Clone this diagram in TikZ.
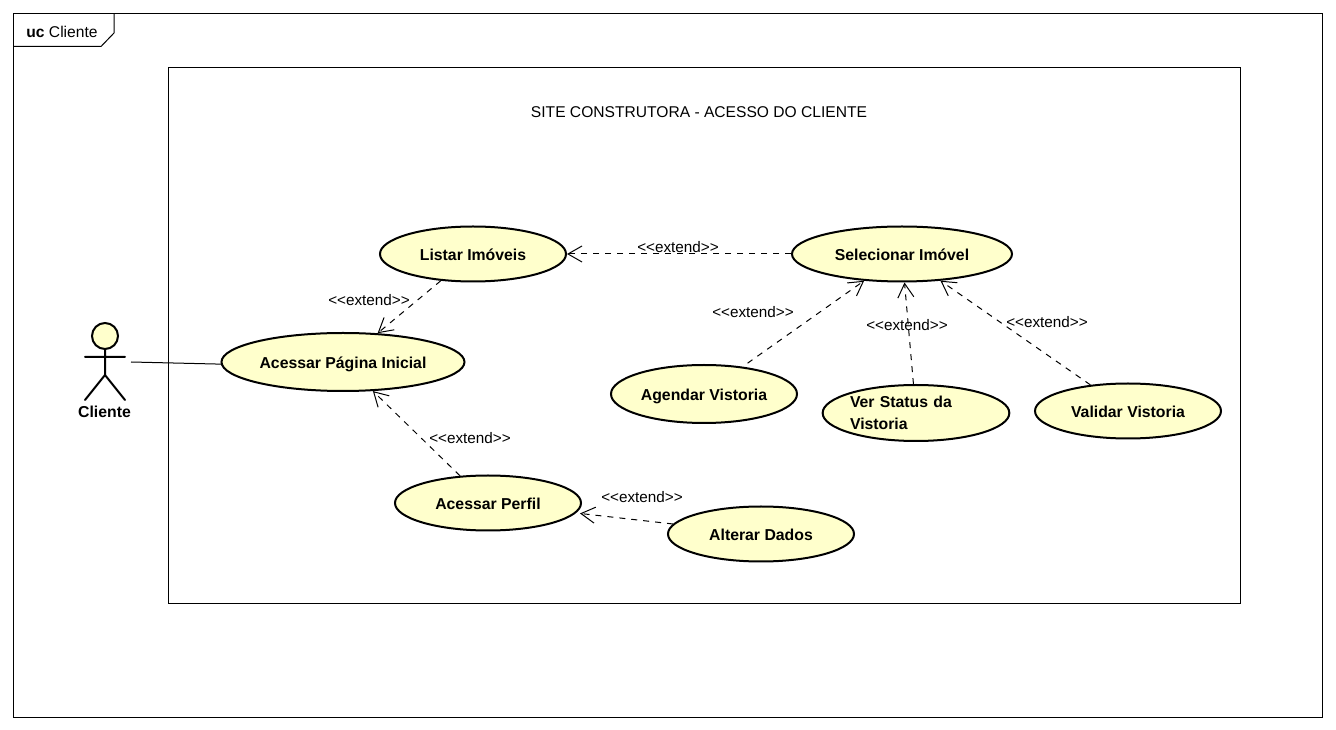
\documentclass[tikz,border=0pt]{standalone}
\usepackage{fontspec}
\setmainfont{Liberation Sans}
\usetikzlibrary{arrows.meta,shapes.geometric}
\definecolor{ucfill}{RGB}{255,255,204}
\newcommand{\extlabel}{<{}<extend>{}>}
\tikzset{
  usecase/.style={ellipse, draw, line width=1.5pt, fill=ucfill, inner sep=0pt,
    minimum width=#1*0.75pt, minimum height=55*0.75pt, align=center,
    text height=11pt, text depth=0.5pt,
    font=\fontsize{11.85}{16.5}\selectfont\bfseries},
  usecase/.default=186,
  extlabel/.style={inner sep=0pt, font=\fontsize{11.45}{14}\selectfont},
  titlelabel/.style={inner sep=0pt, font=\fontsize{11.7}{14}\selectfont},
  dep/.style={line width=0.75pt, dash pattern=on 4.5pt off 4.5pt,
    -{Straight Barb[length=10.5pt,width=12pt,line width=0.75pt]}},
  actorline/.style={line width=1.5pt, line cap=round}
}
\begin{document}
\begin{tikzpicture}[x=0.75pt, y=-0.75pt, line width=0.75pt]
      \useasboundingbox (0, 0) rectangle (1336, 730);
      \draw (13.5, 13.5) rectangle (1322.5, 717.5)
            (168.5, 67.5) rectangle (1240.5, 603.5);
      \draw (114, 13.5) -- (114, 33) -- (101, 46.5) -- (13.5, 46.5);
      \draw (62, 32) node (frametitle) [titlelabel] {\textbf{uc} Cliente}
            (699, 112) node (boxtitle) [titlelabel] {SITE CONSTRUTORA - ACESSO DO CLIENTE};
      % actor
      \draw [actorline, fill=ucfill] (105, 336) circle (13);
      \draw [actorline] (85, 357) -- (125, 357)
                        (105, 349) -- (105, 375)
                        (85, 400) -- (105, 375) -- (125, 400);
      \coordinate (actorend) at (131, 362);
      \draw (104.5, 412) node (cliente) [inner sep=0pt, font=\fontsize{11.85}{14}\selectfont\bfseries] {Cliente};
      % use cases
      \draw (473, 254) node [usecase] (listar) {Listar Imóveis}
            (343, 362) node [usecase=243, minimum height=58*0.75pt] (pagina) {Acessar Página Inicial}
            (902, 254) node [usecase=220] (selecionar) {Selecionar Imóvel}
            (704, 394) node [usecase, minimum height=58*0.75pt] (agendar) {Agendar Vistoria}
            (916, 413) node [usecase, text width=99pt, align=left, text height=, text depth=, minimum height=56*0.75pt] (status) {Ver Status da\\Vistoria}
            (1128, 411) node [usecase] (validar) {Validar Vistoria}
            (488, 503) node [usecase] (perfil) {Acessar Perfil}
            (761, 534) node [usecase] (alterar) {Alterar Dados};
      \draw (actorend) -- (pagina.181.7);
      \draw [dep] (selecionar) edge (listar)
                  (listar) edge (pagina)
                  (perfil) edge (pagina)
                  (alterar) edge [shorten >=3pt] (perfil)
                  (agendar) edge [dash phase=4.5pt] (selecionar)
                  (status) edge (selecionar)
                  (validar) edge (selecionar);
      \draw (678, 247) node [extlabel] (ext1) {\extlabel}
            (369, 300) node [extlabel] (ext2) {\extlabel}
            (753, 312) node [extlabel] (ext3) {\extlabel}
            (907, 325) node [extlabel] (ext4) {\extlabel}
            (1047, 322) node [extlabel] (ext5) {\extlabel}
            (470, 438) node [extlabel] (ext6) {\extlabel}
            (642, 497) node [extlabel] (ext7) {\extlabel};
\end{tikzpicture}
\end{document}
